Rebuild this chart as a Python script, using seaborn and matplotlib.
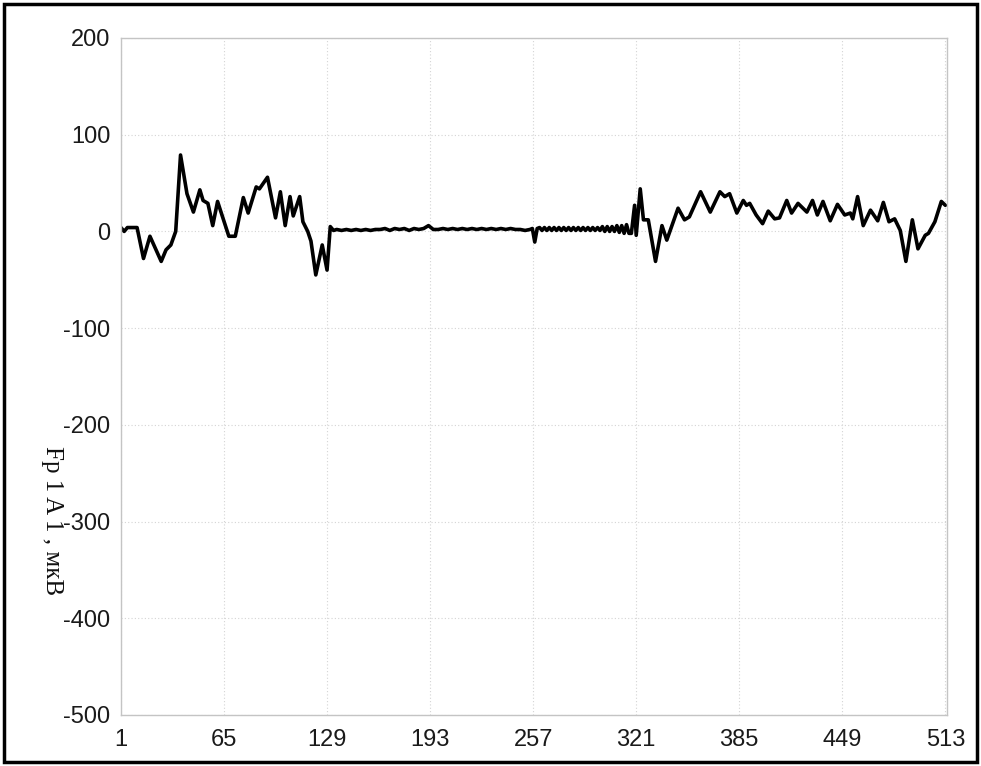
import matplotlib
matplotlib.use("Agg")
import matplotlib.pyplot as plt
from matplotlib.patches import Rectangle
import numpy as np
import pandas as pd
import seaborn as sns

# Fp1-A1 EEG trace, microvolts, sampled at vertex points (sample number, amplitude)
samples_start = [1, 3, 5, 11, 15, 19, 26, 29, 32, 35, 38, 42, 46, 50, 52, 55, 58, 61,
                 68, 72, 77, 80, 85, 87, 92, 97, 100, 103, 106, 108, 112, 114, 117,
                 119, 122, 126, 129, 131, 133]
values_start = [4, 0, 4, 4, -28, -5, -31, -19, -14, 0, 79, 39, 20, 43, 32, 29, 6, 31,
                -5, -5, 35, 19, 46, 44, 56, 14, 41, 6, 36, 16, 36, 10, 0,
                -10, -45, -14, -40, 5, 1]

samples_quiet = [135, 138, 141, 144, 147, 150, 153, 156, 159, 162, 165, 168, 171, 174,
                 177, 180, 183, 186, 189, 192, 195, 198, 201, 204, 207, 210, 213, 216,
                 219, 222, 225, 228, 231, 234, 237, 240, 243, 246, 249, 252, 255, 256.5,
                 258, 259.5]
values_quiet = [2, 1, 2, 1, 2, 1, 2, 1, 2, 2, 3, 1, 3, 2, 3, 1, 3, 2, 3, 6, 2, 2, 3, 2,
                3, 2, 3, 2, 3, 2, 3, 2, 3, 2, 3, 2, 3, 2, 2, 1, 2, 3,
                -11, 3]

samples_ripple = [261, 262.5, 264, 265.5, 267, 268.5, 270, 271.5, 273, 274.5, 276, 277.5,
                  279, 280.5, 282, 283.5, 285, 286.5, 288, 289.5, 291, 292.5, 294, 295.5,
                  297, 298.5, 300, 301.5, 303, 304.5, 306, 307.5, 309, 310.5, 312, 313.5,
                  315, 316.5]
values_ripple = [4, 1, 4, 1, 4, 1, 4, 1, 4, 1, 4, 1, 4, 1, 4, 1, 4, 1, 4, 1, 4, 1, 4, 1,
                 4, 1, 5, 0, 5, 0, 5, 0, 6, -1, 6, -2, 7, -2]

samples_end = [318, 320, 321, 323.5, 325.5, 328.5, 333, 337, 340, 347, 351, 354, 361,
               367, 373, 376, 379, 383.5, 387.5, 389.5, 391.5, 395.5, 399.5, 403, 407,
               410, 414.5, 417.5, 421.5, 427, 430.5, 433.5, 437, 441.5, 446, 450.5, 454,
               455.5, 458.5, 462, 466.5, 471, 474.5, 478, 481.5, 485, 488.5, 492.5, 496,
               500.5, 502.5, 506.5, 510.5, 513]
values_end = [-2, 27, -4, 44, 12, 12, -31, 6, -9, 24, 12, 15, 41,
              20, 41, 36, 39, 19, 32, 27, 29, 17, 8, 21, 13,
              14, 32, 19, 29, 20, 32, 17, 31, 11, 28, 17, 19,
              13, 36, 6, 22, 11, 30, 10, 13, 1, -31, 12, -18,
              -4, -2, 10, 31, 27]

x_ticks = [1, 65, 129, 193, 257, 321, 385, 449, 513]
y_ticks = [-500, -400, -300, -200, -100, 0, 100, 200]
y_label = "Fp 1 A 1 , мкВ"

trace = pd.DataFrame({
    "sample": samples_start + samples_quiet + samples_ripple + samples_end,
    "amplitude": values_start + values_quiet + values_ripple + values_end,
})

sns.set_theme(style="white")
plt.rcParams["font.family"] = ["Liberation Sans", "DejaVu Sans"]

fig = plt.figure(figsize=(9.81, 7.66), dpi=100)
ax = fig.add_axes([0.1233, 0.0666, 0.842, 0.8838])

sns.lineplot(data=trace, x="sample", y="amplitude", ax=ax, color="black",
             linewidth=2.6, sort=False, estimator=None)
for line in ax.get_lines():
    line.set_solid_joinstyle("round")
    line.set_solid_capstyle("round")

ax.set_xlim(1, 514)
ax.set_ylim(-500, 200)
ax.set_xticks(x_ticks)
ax.set_xticklabels([str(t) for t in x_ticks])
ax.set_yticks(y_ticks)
ax.set_yticklabels([str(t) for t in y_ticks])
ax.set_xlabel("")
ax.set_ylabel("")

ax.grid(True, color="#d4d4d4", linestyle=(0, (1, 2)), linewidth=0.8)
for side in ("left", "right", "top", "bottom"):
    ax.spines[side].set_color("#c4c4c4")
    ax.spines[side].set_linewidth(1.0)
ax.tick_params(axis="both", which="major", labelsize=17, colors="#c4c4c4",
               labelcolor="#1a1a1a", length=3, width=0.8)
ax.tick_params(axis="y", pad=4.5)
ax.tick_params(axis="x", pad=7)

fig.text(0.053, 0.32, y_label, rotation=270, ha="center", va="center",
         fontsize=18, family=["Liberation Serif", "DejaVu Serif"], color="#111111")

# outer frame around the whole figure
fig.patches.append(Rectangle((0.004, 0.005), 0.992, 0.99, transform=fig.transFigure,
                             fill=False, edgecolor="black", linewidth=2.5))

fig.savefig("out.png", dpi=100)
